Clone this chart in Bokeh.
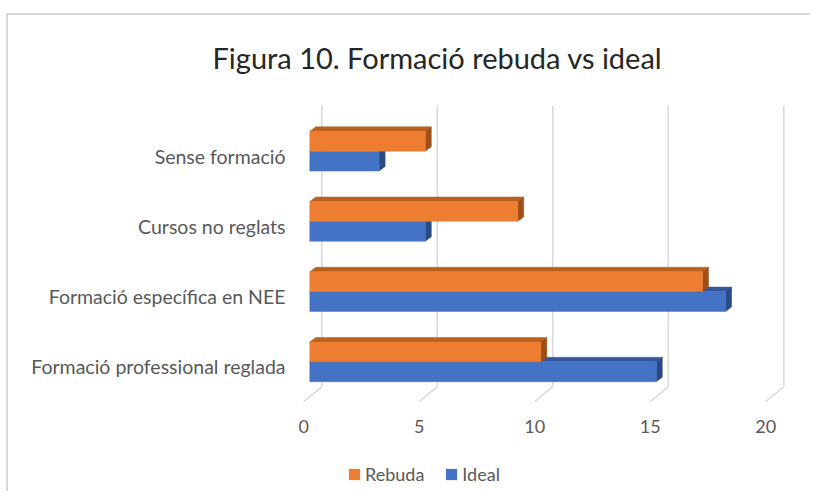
from bokeh.plotting import figure
from bokeh.layouts import column
from bokeh.models import FixedTicker, Legend, LegendItem, Range1d
from bokeh.embed import file_html
from bokeh.resources import INLINE

# ---------------- data ----------------
categories = ["Formació professional reglada", "Formació específica en NEE",
              "Cursos no reglats", "Sense formació"]
rebuda = [10, 17, 9, 5]
ideal = [15, 18, 5, 3]
x_ticks = [0, 5, 10, 15, 20]
series_names = ["Rebuda", "Ideal"]
title_text = "Figura 10. Formació rebuda vs ideal"

# ---------------- style ----------------
FONT = "Lato"
TXT = "#595959"
GRID = "#d9d9d9"
ORANGE = ("#ED7D31", "#B9601F", "#9E4F17")   # front, top, side
BLUE = ("#4472C4", "#34589E", "#2A4A86")
SERIES_COLORS = {"Rebuda": ORANGE, "Ideal": BLUE}

PX_X = 23.1     # px per value unit
PX_Y = 70.67    # px per category
ux, uy = 1.0 / PX_X, 1.0 / PX_Y

FIG_W = 804
FRAME_W, FRAME_H = 490, 310
x_start = -3.3 * ux
x_end = x_start + FRAME_W * ux
y_start = -39 * uy
y_end = y_start + FRAME_H * uy

p = figure(width=FIG_W, height=443, x_range=Range1d(x_start, x_end),
           y_range=Range1d(y_start, y_end), output_backend="svg",
           toolbar_location=None, min_border_left=292, min_border_right=FIG_W - 292 - FRAME_W,
           min_border_top=80, min_border_bottom=53)
p.margin = (13, 0, 0, 6)
p.styles = {"border-left": "2px solid #d9d9d9", "border-top": "2px solid #d9d9d9"}
p.outline_line_color = None
p.background_fill_color = "white"
p.border_fill_color = "white"
p.xgrid.visible = False
p.ygrid.visible = False

# title
p.title.text = title_text
p.title.align = "left"
p.title.offset = -88
p.title.standoff = 45
p.title.text_font = FONT
p.title.text_font_size = "29px"
p.title.text_font_style = "normal"
p.title.text_color = "#262626"

# ---------------- gridlines (3D wall + floor) ----------------
back_dx, back_dy = 18 * ux, 15 * uy
floor_front = -35 * uy
wall_top = 263 * uy
p.segment(x0=[t + back_dx for t in x_ticks], y0=[floor_front + back_dy] * len(x_ticks),
          x1=[t + back_dx for t in x_ticks], y1=[wall_top] * len(x_ticks),
          line_color=GRID, line_width=1.5)
p.segment(x0=x_ticks, y0=[floor_front] * len(x_ticks),
          x1=[t + back_dx for t in x_ticks], y1=[floor_front + back_dy] * len(x_ticks),
          line_color=GRID, line_width=1.5)

# ---------------- 3D bars ----------------
front_dx, front_dy = 6 * ux, 5 * uy
depth_dx, depth_dy = 6 * ux, 4.5 * uy
bar_h = 20 * uy

for name, vals, above in [("Ideal", ideal, False), ("Rebuda", rebuda, True)]:
    cols = SERIES_COLORS[name]
    lefts, rights, bottoms, tops = [], [], [], []
    for i, v in enumerate(vals):
        c = i + front_dy
        b, t = (c, c + bar_h) if above else (c - bar_h, c)
        lefts.append(front_dx)
        rights.append(v + front_dx)
        bottoms.append(b)
        tops.append(t)
    top_xs = [[l, r, r + depth_dx, l + depth_dx] for l, r in zip(lefts, rights)]
    top_ys = [[t, t, t + depth_dy, t + depth_dy] for t in tops]
    side_xs = [[r, r + depth_dx, r + depth_dx, r] for r in rights]
    side_ys = [[b, b + depth_dy, t + depth_dy, t] for b, t in zip(bottoms, tops)]
    p.patches(top_xs, top_ys, fill_color=cols[1], line_color=cols[1], line_width=0.5)
    p.patches(side_xs, side_ys, fill_color=cols[2], line_color=cols[2], line_width=0.5)
    p.quad(left=lefts, right=rights, bottom=bottoms, top=tops,
           fill_color=cols[0], line_color=cols[0], line_width=0.5)

# ---------------- axes ----------------
p.xaxis.ticker = FixedTicker(ticks=x_ticks)
p.xaxis.axis_line_color = None
p.xaxis.major_tick_line_color = None
p.xaxis.minor_tick_line_color = None
p.xaxis.major_label_standoff = 8
p.xaxis.major_label_text_font = FONT
p.xaxis.major_label_text_font_size = "18px"
p.xaxis.major_label_text_color = TXT

p.yaxis.ticker = FixedTicker(ticks=list(range(len(categories))))
p.yaxis.major_label_overrides = {i: c for i, c in enumerate(categories)}
p.yaxis.axis_line_color = None
p.yaxis.major_tick_line_color = None
p.yaxis.minor_tick_line_color = None
p.yaxis.major_label_standoff = 9
p.yaxis.major_label_text_font = FONT
p.yaxis.major_label_text_font_size = "19.5px"
p.yaxis.major_label_text_color = TXT

# ---------------- legend (strip below the chart, frame aligned with the chart) ----------------
pl = figure(width=FIG_W, height=35, x_range=Range1d(0, 1), y_range=Range1d(0, 1),
            output_backend="svg", toolbar_location=None, x_axis_type=None,
            y_axis_type=None, min_border=0)
pl.margin = (0, 0, 0, 6)
pl.styles = {"border-left": "2px solid #d9d9d9"}
pl.outline_line_color = None
pl.xgrid.visible = False
pl.ygrid.visible = False
items = []
for name in series_names:
    # swatch source: a box kept outside the visible range of the strip
    r = pl.quad(left=[2], right=[3], bottom=[2], top=[3],
                fill_color=SERIES_COLORS[name][0], line_color=None)
    items.append(LegendItem(label=name, renderers=[r]))
legend = Legend(items=items, orientation="horizontal", location=(47, 6),
                border_line_color=None, background_fill_alpha=0,
                padding=0, margin=0, spacing=20, glyph_width=14, glyph_height=14,
                label_text_font=FONT, label_text_font_size="18px",
                label_text_color=TXT, label_standoff=4)
pl.add_layout(legend, "center")

layout = column(p, pl, spacing=0)
open("out.html", "w").write(file_html(layout, INLINE))
